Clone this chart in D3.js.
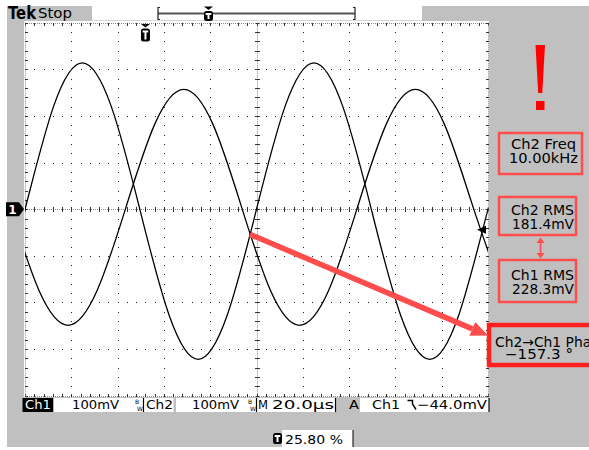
<!DOCTYPE html>
<html>
<head>
<meta charset="utf-8">
<script src="https://cdn.jsdelivr.net/npm/d3@7/dist/d3.min.js"></script>
<style>
  html, body { margin: 0; padding: 0; background: #fff; }
  svg text { font-family: "DejaVu Sans", sans-serif; }
</style>
</head>
<body>
<div id="scope"></div>
<script>
// Traces: time in µs from the trigger point, level in mV.
var ch1Time = [-64.3, -51.8, -39.3, -26.8, -14.3, -1.8, 10.7, 23.2, 35.7, 48.2, 60.7, 73.2, 85.7, 98.2, 110.7, 123.2, 135.7, 148.2, 160.7];
var ch1Volts = [-228, -4, 220, 314, 220, -4, -228, -322, -228, -4, 220, 314, 220, -4, -228, -322, -228, -4, 220];
var ch2Time = [-58.0, -45.5, -33.0, -20.5, -8.0, 4.5, 17.0, 29.5, 42.0, 54.5, 67.0, 79.5, 92.0, 104.5, 117.0, 129.5, 142.0, 154.5];
var ch2Volts = [4, -175, -249, -175, 4, 183, 257, 183, 4, -175, -249, -175, 4, 183, 257, 183, 4, -175];

var timeWindow = [-51.6, 148.4];   // 20 µs/div, trigger at 25.80 %
var voltWindow = [-400, 400];      // 100 mV/div
var triggerLevel = -44;

var measureNames = ['Ch2 Freq', 'Ch2 RMS', 'Ch1 RMS', 'Ch2\u2192Ch1 Phase'];
var measureValues = ['10.00kHz', '181.4mV', '228.3mV', '\u2212157.3 \u00b0'];
var phaseArrowFrom = [45.6, -54];

(function() {
  'use strict';

  var width = 589;
  var height = 450;
  var scrL = 25, scrR = 488, scrT = 22.7, scrB = 395.7;

  var svg = d3.select('#scope').append('svg')
    .attr('width', width)
    .attr('height', height);

  var x = d3.scaleLinear().domain(timeWindow).range([scrL, scrR]);
  var y = d3.scaleLinear().domain(voltWindow).range([scrB, scrT]);
  var divX = d3.scaleLinear().domain([0, 10]).range([scrL, scrR]);
  var divY = d3.scaleLinear().domain([-4, 4]).range([scrB, scrT]);

  // Bezel and screen.
  svg.append('rect').attr('x', 7).attr('y', 6).attr('width', width - 7).attr('height', 441).attr('fill', '#c0c0c0');
  svg.append('rect').attr('x', 24).attr('y', 21).attr('width', 465).attr('height', 376).attr('fill', '#fff');

  // Header.
  svg.append('text').attr('x', 8).attr('y', 19).attr('font-size', 17).attr('font-weight', 'bold')
    .attr('textLength', 28).attr('lengthAdjust', 'spacingAndGlyphs').text('Tek');
  svg.append('text').attr('x', 38).attr('y', 18).attr('font-size', 14)
    .attr('textLength', 34).attr('lengthAdjust', 'spacingAndGlyphs').text('Stop');
  svg.append('rect').attr('x', 92).attr('y', 6).attr('width', 330).attr('height', 14).attr('fill', '#fff');
  svg.append('line').attr('x1', 92).attr('x2', 422).attr('y1', 20.5).attr('y2', 20.5).attr('stroke', '#d8d8d8');
  svg.append('line').attr('x1', 158).attr('x2', 355).attr('y1', 13.5).attr('y2', 13.5).attr('stroke', '#555').attr('stroke-width', 2);
  [158, 355].forEach(function(bx, i) {
    var d = i === 0 ? 2 : -2;
    svg.append('path')
      .attr('d', 'M' + (bx + d) + ',7.5H' + bx + 'V19.5H' + (bx + d))
      .attr('fill', 'none').attr('stroke', '#222').attr('stroke-width', 1.2);
  });

  function triggerBadge(cx, y0, h, arrow) {
    var g = svg.append('g');
    if (arrow) {
      g.append('path').attr('d', 'M' + (cx - 4.5) + ',' + y0 + 'H' + (cx + 4.5) + 'L' + cx + ',' + (y0 + 3.5) + 'Z').attr('fill', '#000');
      y0 += 4.5;
    }
    g.append('rect').attr('x', cx - 4.5).attr('y', y0).attr('width', 9).attr('height', h).attr('rx', 2.5).attr('fill', '#000');
    g.append('path')
      .attr('d', 'M' + (cx - 2.8) + ',' + (y0 + 2) + 'H' + (cx + 2.8) + 'V' + (y0 + 4) + 'H' + (cx + 1) + 'V' + (y0 + h - 2) + 'H' + (cx - 1) + 'V' + (y0 + 4) + 'H' + (cx - 2.8) + 'Z')
      .attr('fill', '#fff');
  }
  triggerBadge(208.5, 6.5, 10, true);
  triggerBadge(x(0) + 1, 24, 13, true);

  // Graticule: dotted division lines.
  var grid = svg.append('g').attr('class', 'graticule');
  [1, 2, 3, 4, 6, 7, 8, 9].forEach(function(i) {
    grid.selectAll(null).data(d3.range(0, 41)).enter().append('rect')
      .attr('x', Math.round(divX(i)))
      .attr('y', function(k) { return Math.round(divY(-4 + k * 0.2)); })
      .attr('width', 1).attr('height', 1).attr('fill', '#222');
  });
  [-3, -2, -1, 1, 2, 3].forEach(function(j) {
    grid.selectAll(null).data(d3.range(0, 51)).enter().append('rect')
      .attr('x', function(k) { return Math.round(divX(k * 0.2)); })
      .attr('y', Math.round(divY(j)))
      .attr('width', 1).attr('height', 1).attr('fill', '#222');
  });

  // Centre lines and frame with minor ticks.
  function hRule(yy, tickUp, tickDown) {
    grid.append('line').attr('x1', scrL).attr('x2', scrR).attr('y1', yy + 0.5).attr('y2', yy + 0.5)
      .attr('stroke', '#8c8c8c').attr('stroke-dasharray', '1,1');
    grid.selectAll(null).data(d3.range(0, 51)).enter().append('line')
      .attr('x1', function(k) { return Math.round(divX(k * 0.2)) + 0.5; })
      .attr('x2', function(k) { return Math.round(divX(k * 0.2)) + 0.5; })
      .attr('y1', yy - tickUp).attr('y2', yy + 1 + tickDown)
      .attr('stroke', '#333');
  }
  function vRule(xx, tickLeft, tickRight) {
    grid.append('line').attr('y1', scrT).attr('y2', scrB).attr('x1', xx + 0.5).attr('x2', xx + 0.5)
      .attr('stroke', '#8c8c8c').attr('stroke-dasharray', '1,1');
    grid.selectAll(null).data(d3.range(0, 41)).enter().append('line')
      .attr('y1', function(k) { return Math.round(divY(-4 + k * 0.2)) + 0.5; })
      .attr('y2', function(k) { return Math.round(divY(-4 + k * 0.2)) + 0.5; })
      .attr('x1', xx - tickLeft).attr('x2', xx + 1 + tickRight)
      .attr('stroke', '#333');
  }
  hRule(Math.round(divY(0)), 2, 2);
  vRule(Math.round(divX(5)), 2, 2);
  hRule(Math.round(scrT), 0, 2);
  hRule(Math.round(scrB), 2, 0);
  vRule(Math.round(scrL), 0, 2);
  vRule(Math.round(scrR), 2, 0);

  // Waveforms.
  svg.append('defs').append('clipPath').attr('id', 'screen-clip')
    .append('rect').attr('x', scrL).attr('y', scrT).attr('width', scrR - scrL).attr('height', scrB - scrT);

  var trace = d3.line()
    .x(function(d) { return x(d[0]); })
    .y(function(d) { return y(d[1]); })
    .curve(d3.curveNatural);

  var traces = svg.append('g').attr('clip-path', 'url(#screen-clip)');
  traces.append('path').datum(d3.zip(ch1Time, ch1Volts))
    .attr('d', trace).attr('fill', 'none').attr('stroke', '#000').attr('stroke-width', 1.3);
  traces.append('path').datum(d3.zip(ch2Time, ch2Volts))
    .attr('d', trace).attr('fill', 'none').attr('stroke', '#000').attr('stroke-width', 1.3);

  // Channel 1 ground marker and trigger level marker.
  var gy = y(0);
  svg.append('path').attr('d', 'M6,' + (gy - 7) + 'H19L24,' + gy + 'L19,' + (gy + 7) + 'H6Z').attr('fill', '#000');
  svg.append('text').attr('x', 12.5).attr('y', gy + 4.5).attr('text-anchor', 'middle')
    .attr('font-size', 12).attr('font-weight', 'bold').attr('fill', '#fff').text('1');
  var ty = y(triggerLevel);
  svg.append('path').attr('d', 'M477,' + ty + 'L486,' + (ty - 4) + 'V' + (ty + 4) + 'Z').attr('fill', '#000');

  // Status bar.
  var bar = svg.append('g').attr('font-size', 12.5);
  bar.append('rect').attr('x', 22.5).attr('y', 398).attr('width', 31).attr('height', 14).attr('fill', '#000');
  bar.append('rect').attr('x', 53.5).attr('y', 398).attr('width', 120).attr('height', 14).attr('fill', '#fff');
  bar.append('rect').attr('x', 176).attr('y', 398).attr('width', 159.5).attr('height', 14).attr('fill', '#fff');
  bar.append('rect').attr('x', 360).attr('y', 398).attr('width', 129).attr('height', 14).attr('fill', '#fff');
  [143.5, 256.5, 335.5, 489].forEach(function(lx) {
    bar.append('line').attr('x1', lx).attr('x2', lx).attr('y1', 398).attr('y2', 412).attr('stroke', '#000').attr('stroke-width', 1.2);
  });
  [135, 248].forEach(function(bx) {
    bar.append('text').attr('x', bx).attr('y', 404).attr('font-size', 6).text('B');
    bar.append('text').attr('x', bx + 2).attr('y', 410.5).attr('font-size', 6).text('W');
  });
  function barText(tx, str, len, colour) {
    bar.append('text').attr('x', tx).attr('y', 408.6).attr('fill', colour || '#000')
      .attr('textLength', len).attr('lengthAdjust', 'spacingAndGlyphs').text(str);
  }
  barText(25, 'Ch1', 26, '#fff');
  barText(72, '100mV', 47);
  barText(146, 'Ch2', 27);
  barText(192, '100mV', 47);
  barText(258, 'M', 10);
  barText(272, '20.0\u00b5s', 62);
  barText(349, 'A', 10);
  barText(372, 'Ch1', 28);
  barText(417, '\u221244.0mV', 70);
  bar.append('path').attr('d', 'M407.5,400.5H412.5V404L416,409.5')
    .attr('fill', 'none').attr('stroke', '#000').attr('stroke-width', 1.4);

  // Trigger position readout.
  svg.append('rect').attr('x', 282).attr('y', 430).attr('width', 71).attr('height', 17).attr('fill', '#fff');
  svg.append('line').attr('x1', 353).attr('x2', 353).attr('y1', 430).attr('y2', 447).attr('stroke', '#000');
  triggerBadge(277.5, 433, 11, false);
  svg.append('text').attr('x', 285).attr('y', 443.5).attr('font-size', 12.5)
    .attr('textLength', 58).attr('lengthAdjust', 'spacingAndGlyphs').text('25.80 %');

  // Measurement readouts.
  var red = '#ff4d4d';
  svg.append('path').attr('d', 'M535.5,45H545L542.3,93H538.2Z').attr('fill', '#ff0000');
  svg.append('rect').attr('x', 536).attr('y', 101).attr('width', 8.5).attr('height', 9).attr('fill', '#ff0000');

  var boxes = [
    { x: 499, y: 133, w: 83, h: 41, sw: 2.5, tx: [511, 509], len: [65, 69] },
    { x: 499, y: 197, w: 77, h: 38, sw: 2.5, tx: [511, 512], len: [63, 62] },
    { x: 499, y: 260, w: 77, h: 42, sw: 2.5, tx: [511, 512], len: [63, 62] },
    { x: 489, y: 325, w: 110, h: 40, sw: 4.5, tx: [495, 505], len: [112, 68] }
  ];
  var baselines = [[149, 163], [215, 228.5], [280, 293.5], [346.5, 358.5]];
  var meas = svg.append('g').attr('font-size', 14);
  boxes.forEach(function(b, i) {
    meas.append('rect').attr('x', b.x).attr('y', b.y).attr('width', b.w).attr('height', b.h)
      .attr('fill', 'none').attr('stroke', i === 3 ? '#ff2020' : red).attr('stroke-width', b.sw);
    meas.append('text').attr('x', b.tx[0]).attr('y', baselines[i][0])
      .attr('textLength', b.len[0]).attr('lengthAdjust', 'spacingAndGlyphs').text(measureNames[i]);
    meas.append('text').attr('x', b.tx[1]).attr('y', baselines[i][1])
      .attr('textLength', b.len[1]).attr('lengthAdjust', 'spacingAndGlyphs').text(measureValues[i]);
  });

  // Double arrow between the two RMS readouts.
  svg.append('line').attr('x1', 540.5).attr('x2', 540.5).attr('y1', 240).attr('y2', 256).attr('stroke', red).attr('stroke-width', 1.8);
  svg.append('path').attr('d', 'M536.5,243L540.5,237.5L544.5,243Z M536.5,253L540.5,258.5L544.5,253Z').attr('fill', red);

  // Phase arrow from the Ch2 trace to the phase readout.
  var ax0 = x(phaseArrowFrom[0]), ay0 = y(phaseArrowFrom[1]);
  var ax1 = 488, ay1 = 335.5;
  var ang = Math.atan2(ay1 - ay0, ax1 - ax0);
  var headLen = 17, headHalf = 7.5;
  var hx = ax1 - headLen * Math.cos(ang), hy = ay1 - headLen * Math.sin(ang);
  svg.append('line').attr('x1', ax0).attr('y1', ay0).attr('x2', hx).attr('y2', hy)
    .attr('stroke', red).attr('stroke-width', 5.5);
  svg.append('path')
    .attr('d', 'M' + ax1 + ',' + ay1 +
      'L' + (hx - headHalf * Math.sin(ang)) + ',' + (hy + headHalf * Math.cos(ang)) +
      'L' + (hx + headHalf * Math.sin(ang)) + ',' + (hy - headHalf * Math.cos(ang)) + 'Z')
    .attr('fill', red);
}());
</script>
</body>
</html>
